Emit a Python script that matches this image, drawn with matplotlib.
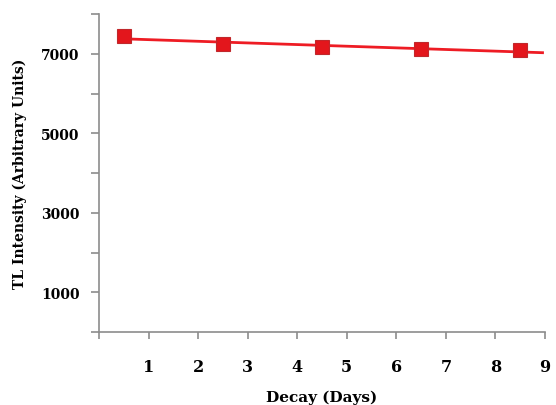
import numpy as np
import matplotlib
matplotlib.use("Agg")
import matplotlib.pyplot as plt

# Datos
decay_days = [0.5, 2.5, 4.5, 6.5, 8.5]
tl_intensity = [7445, 7236, 7165, 7110, 7095]
x_ticks = [0, 1, 2, 3, 4, 5, 6, 7, 8, 9]
y_labels = [1000, 3000, 5000, 7000]
y_minor = [0, 2000, 4000, 6000, 8000]

plt.rcParams['font.family'] = ['DejaVu Serif']
plt.rcParams['font.weight'] = 'bold'

fig = plt.figure(figsize=(5.56, 4.06), dpi=100)
ax = fig.add_axes([99/556, 1 - 333/406, (545-99)/556, (333-15)/406])

# Linea de tendencia
coef = np.polyfit(decay_days, tl_intensity, 1)
xt = np.array([decay_days[0], 8.95])
ax.plot(xt, np.polyval(coef, xt), color='#ee1c24', lw=2, zorder=2)
ax.plot(decay_days, tl_intensity, linestyle='none', marker='s', markersize=9.5,
        markerfacecolor='#e3161c', markeredgecolor='#c0282c', markeredgewidth=0.8, zorder=3)

ax.set_xlim(0, 9)
ax.set_ylim(0, 8000)
ax.set_xticks(x_ticks)
ax.set_xticklabels(['' if v == 0 else str(v) for v in x_ticks], fontsize=11.5, fontweight='bold')
ax.set_yticks(y_labels)
ax.set_yticklabels([str(v) for v in y_labels], fontsize=10, fontweight='bold')
ax.set_yticks(y_minor, minor=True)

for s in ['top', 'right']:
    ax.spines[s].set_visible(False)
for s in ['left', 'bottom']:
    ax.spines[s].set_color('#8c8c8c')
    ax.spines[s].set_linewidth(1.2)

ax.tick_params(axis='x', direction='out', length=5, width=1.2, color='#8c8c8c', pad=14)
ax.tick_params(axis='y', which='both', direction='out', length=6, width=1.2, color='#8c8c8c', pad=8)

ax.set_xlabel('Decay (Days)', fontsize=11, fontweight='bold', labelpad=10)
ax.set_ylabel('TL Intensity (Arbitrary Units)', fontsize=10, fontweight='bold', labelpad=10)

fig.savefig('out.png', dpi=100)
